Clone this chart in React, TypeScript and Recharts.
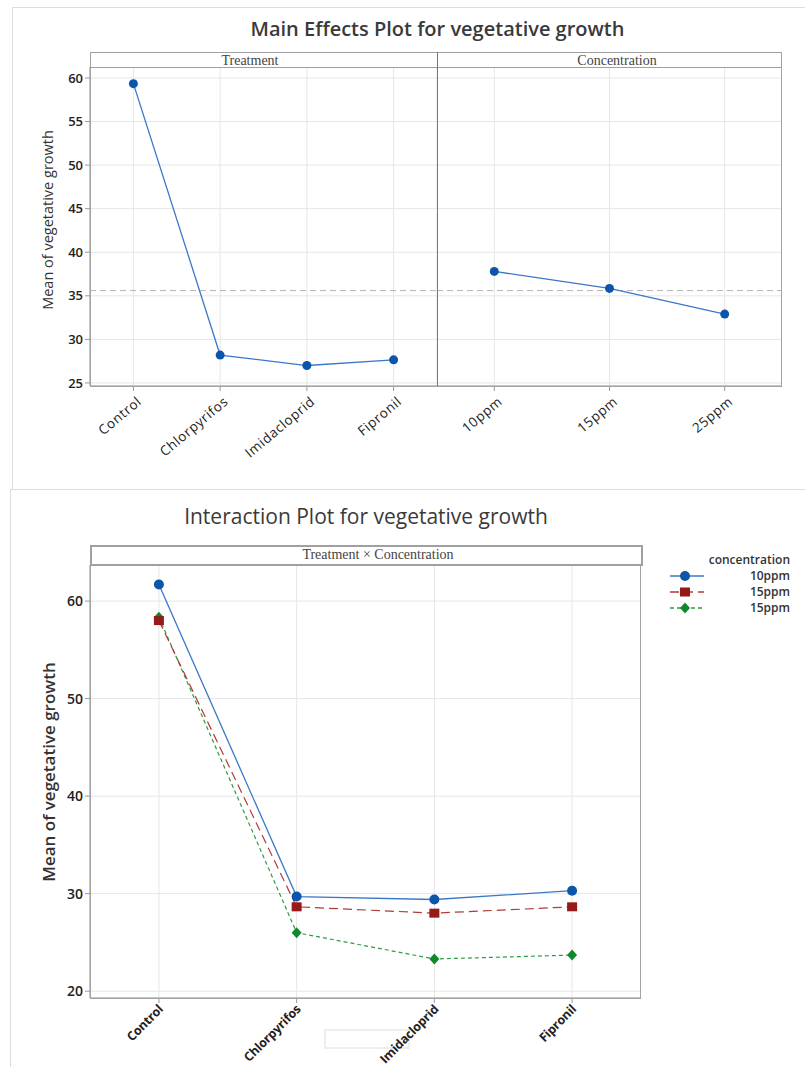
import React from "react";
import { LineChart, Line, XAxis, YAxis, CartesianGrid, ReferenceLine } from "recharts";

// main effects
const treatments = ["Control", "Chlorpyrifos", "Imidacloprid", "Fipronil"];
const treatmentMeans = [59.35, 28.2, 27.0, 27.65];
const concentrations = ["10ppm", "15ppm", "25ppm"];
const concentrationMeans = [37.8, 35.85, 32.9];
const grandMean = 35.6;
const mainTicks = [25, 30, 35, 40, 45, 50, 55, 60];

// interaction
const interactionTicks = [20, 30, 40, 50, 60];
const growth10ppm = [61.7, 29.7, 29.4, 30.3];
const growth15ppm = [58.0, 28.65, 28.0, 28.65];
const growth15ppmB = [58.35, 26.0, 23.3, 23.7];
const legendTitle = "concentration";
const legendLabels = ["10ppm", "15ppm", "15ppm"];

const treatmentData = treatments.map((name, i) => ({ name, mean: treatmentMeans[i] }));
const concentrationData = concentrations.map((name, i) => ({ name, mean: concentrationMeans[i] }));
const interactionData = treatments.map((name, i) => ({
  name,
  c10: growth10ppm[i],
  c15: growth15ppm[i],
  c15b: growth15ppmB[i],
}));

const FONT = "'Open Sans', 'Noto Sans', sans-serif";
const BLUE = "#0b56aa";
const BLUE_LINE = "#3a78c8";
const RED = "#961a1a";
const RED_LINE = "#b23a3a";
const GREEN = "#0e8a2c";
const GREEN_LINE = "#2e9c40";

function AngledTick(props: any) {
  const { x, y, payload, size, weight, dx, dy, angle, spacing } = props;
  return (
    <g transform={`translate(${x + dx},${y + dy})`}>
      <text
        textAnchor="end"
        transform={`rotate(${-angle})`}
        fontSize={size}
        fontWeight={weight}
        fontFamily={FONT}
        letterSpacing={spacing}
        fill="#222"
      >
        {payload.value}
      </text>
    </g>
  );
}

function SquareDot(props: any) {
  const { cx, cy } = props;
  if (cx == null || cy == null) return null;
  return <rect x={cx - 5} y={cy - 4.5} width={10} height={9} fill={RED} />;
}

function DiamondDot(props: any) {
  const { cx, cy } = props;
  if (cx == null || cy == null) return null;
  return <polygon points={`${cx},${cy - 5.5} ${cx + 5},${cy} ${cx},${cy + 5.5} ${cx - 5},${cy}`} fill={GREEN} />;
}

const abs = (left: number, top: number, extra: React.CSSProperties = {}): React.CSSProperties => ({
  position: "absolute",
  left,
  top,
  ...extra,
});

export default function App() {
  const mainDomain: [number, number] = [24.65, 61.26];
  const interDomain: [number, number] = [19.3, 63.7];
  return (
    <div style={{ position: "absolute", left: 0, top: 0, width: 805, height: 1067, background: "#fff", overflow: "hidden", fontFamily: FONT }}>
      {/* outer boxes */}
      <div style={abs(12, 7, { width: 800, height: 482, borderLeft: "1px solid #ddd", borderTop: "1px solid #ddd" })} />
      <div style={abs(10, 489, { width: 800, height: 600, borderLeft: "1px solid #ddd", borderTop: "1px solid #ddd" })} />
      {/* faint empty box below the axis */}
      <div style={abs(324, 1029, { width: 82, height: 16, border: "2px solid #eeeeee" })} />

      {/* ---------- Main effects ---------- */}
      <div style={abs(0, 15, { width: 875, textAlign: "center", fontSize: 20, fontWeight: 600, color: "#3a3a3a" })}>
        Main Effects Plot for vegetative growth
      </div>
      <div
        style={abs(47, 220, {
          transform: "translate(-50%, -50%) rotate(-90deg)",
          whiteSpace: "nowrap",
          fontSize: 14.5,
          color: "#333",
        })}
      >
        Mean of vegetative growth
      </div>

      <div style={abs(0, 67)}>
        <LineChart width={437} height={400} data={treatmentData} margin={{ top: 0, right: 0, bottom: 0, left: 0 }}>
          <CartesianGrid stroke="#e6e6e6" />
          <XAxis
            dataKey="name"
            height={81}
            padding={{ left: 43.4, right: 43.4 }}
            interval={0}
            stroke="#999"
            tickSize={5}
            tick={<AngledTick size={13.5} weight={500} dx={9} dy={10} angle={40} spacing={0.6} />}
          />
          <YAxis
            width={90}
            domain={mainDomain}
            ticks={mainTicks}
            type="number"
            stroke="#999"
            tickSize={5}
            tick={{ fill: "#222", fontSize: 13, fontWeight: 600, fontFamily: FONT }}
          />
          <ReferenceLine y={grandMean} stroke="#b5b5b5" strokeDasharray="6 4" />
          <Line
            dataKey="mean"
            stroke={BLUE_LINE}
            strokeWidth={1.3}
            dot={{ r: 4.5, fill: BLUE, stroke: BLUE, strokeWidth: 0 }}
            isAnimationActive={false}
          />
        </LineChart>
      </div>
      <div style={abs(437, 67)}>
        <LineChart width={345} height={400} data={concentrationData} margin={{ top: 0, right: 0, bottom: 0, left: 0 }}>
          <CartesianGrid stroke="#e6e6e6" />
          <XAxis
            dataKey="name"
            height={81}
            padding={{ left: 57.3, right: 57.3 }}
            interval={0}
            stroke="#999"
            tickSize={5}
            tick={<AngledTick size={13.5} weight={500} dx={9} dy={10} angle={40} spacing={0.6} />}
          />
          <YAxis hide width={0} domain={mainDomain} ticks={mainTicks} type="number" />
          <ReferenceLine y={grandMean} stroke="#b5b5b5" strokeDasharray="6 4" />
          <Line
            dataKey="mean"
            stroke={BLUE_LINE}
            strokeWidth={1.3}
            dot={{ r: 4.5, fill: BLUE, stroke: BLUE, strokeWidth: 0 }}
            isAnimationActive={false}
          />
        </LineChart>
      </div>

      {/* frame + strip for main effects */}
      <div style={abs(90, 52, { width: 690, height: 333, border: "1.5px solid #a3a3a3" })} />
      <div style={abs(90, 52, { width: 690, height: 14, border: "1.5px solid #a0a0a0", background: "#fff" })} />
      <div style={abs(436.5, 52, { width: 0, height: 334, borderLeft: "1px solid #777" })} />
      <div style={abs(90, 52, { width: 320, textAlign: "center", fontFamily: "'Liberation Serif', serif", fontSize: 14, color: "#444", lineHeight: "17px" })}>
        Treatment
      </div>
      <div style={abs(437, 52, { width: 360, textAlign: "center", fontFamily: "'Liberation Serif', serif", fontSize: 14, color: "#444", lineHeight: "17px" })}>
        Concentration
      </div>

      {/* ---------- Interaction ---------- */}
      <div style={abs(0, 502, { width: 732, textAlign: "center", fontSize: 21, fontWeight: 500, color: "#3a3a3a" })}>
        Interaction Plot for vegetative growth
      </div>
      <div
        style={abs(48, 772, {
          transform: "translate(-50%, -50%) rotate(-90deg)",
          whiteSpace: "nowrap",
          fontSize: 17,
          fontWeight: 600,
          color: "#333",
        })}
      >
        Mean of vegetative growth
      </div>

      <div style={abs(0, 565)}>
        <LineChart width={641} height={502} data={interactionData} margin={{ top: 0, right: 0, bottom: 0, left: 0 }}>
          <CartesianGrid stroke="#e6e6e6" />
          <XAxis
            dataKey="name"
            height={69}
            padding={{ left: 68.9, right: 68.9 }}
            interval={0}
            stroke="#999"
            tickSize={5}
            tick={<AngledTick size={12.5} weight={700} dx={5} dy={5} angle={45} spacing={-0.2} />}
          />
          <YAxis
            width={90}
            domain={interDomain}
            ticks={interactionTicks}
            type="number"
            stroke="#999"
            tickSize={5}
            tick={{ fill: "#222", fontSize: 14, fontWeight: 600, fontFamily: FONT }}
          />
          <Line dataKey="c15b" stroke={GREEN_LINE} strokeWidth={1.2} strokeDasharray="4 3" dot={<DiamondDot />} isAnimationActive={false} />
          <Line dataKey="c15" stroke={RED_LINE} strokeWidth={1.2} strokeDasharray="9 5" dot={<SquareDot />} isAnimationActive={false} />
          <Line
            dataKey="c10"
            stroke={BLUE_LINE}
            strokeWidth={1.3}
            dot={{ r: 5, fill: BLUE, stroke: BLUE, strokeWidth: 0 }}
            isAnimationActive={false}
          />
        </LineChart>
      </div>

      <div style={abs(90, 545, { width: 549, height: 452, border: "1.5px solid #a3a3a3" })} />
      <div style={abs(90, 545, { width: 549, height: 17, border: "2px solid #a0a0a0", background: "#fff" })} />
      <div style={abs(90, 546, { width: 576, textAlign: "center", fontFamily: "'Liberation Serif', serif", fontSize: 14, color: "#444", lineHeight: "17px" })}>
        Treatment × Concentration
      </div>

      {/* legend */}
      <svg style={abs(660, 548)} width={145} height={70}>
        <text x={130} y={16} textAnchor="end" fontSize={12} fontWeight={600} fill="#333" fontFamily={FONT}>
          {legendTitle}
        </text>
        {legendLabels.map((label, i) => {
          const y = 28 + i * 16;
          const color = [BLUE_LINE, RED_LINE, GREEN_LINE][i];
          const dash = [undefined, "9 5", "4 3"][i];
          return (
            <g key={i}>
              <line x1={10} x2={44} y1={y} y2={y} stroke={color} strokeWidth={1.3} strokeDasharray={dash} />
              {i === 0 && <circle cx={25} cy={y} r={5} fill={BLUE} />}
              {i === 1 && <rect x={20} y={y - 4.5} width={10} height={9} fill={RED} />}
              {i === 2 && <polygon points={`25,${y - 5.5} 30,${y} 25,${y + 5.5} 20,${y}`} fill={GREEN} />}
              <text x={130} y={y + 4} textAnchor="end" fontSize={12} fontWeight={600} fill="#333" fontFamily={FONT}>
                {label}
              </text>
            </g>
          );
        })}
      </svg>
    </div>
  );
}
